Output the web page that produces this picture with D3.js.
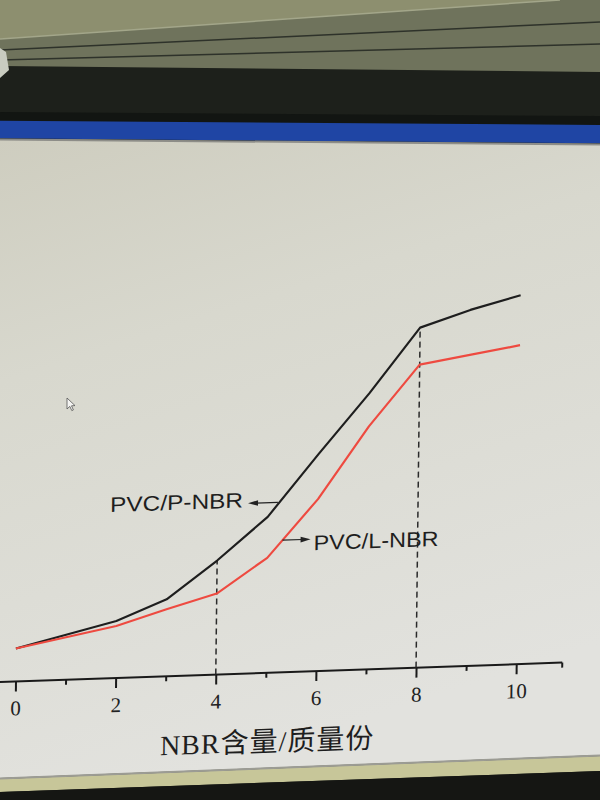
<!DOCTYPE html>
<html>
<head>
<meta charset="utf-8">
<script src="https://cdn.jsdelivr.net/npm/d3@7/dist/d3.min.js"></script>
<style>
  html, body { margin: 0; padding: 0; background: #1c1f1a; }
  svg { display: block; }
</style>
</head>
<body>
<svg id="chart" width="600" height="800"></svg>
<script>
// ---- data ----
const nbrContent = [0, 2, 3, 4, 5, 6, 7, 8, 9, 10];
const pNBR = [3.3, 5.7, 7.7, 11.4, 15.6, 21.7, 27.6, 34.0, 35.6, 36.9];
const lNBR = [3.3, 5.2, 6.7, 8.1, 11.5, 17.2, 24.3, 30.3, 31.1, 31.9];
const majorTicks = [0, 2, 4, 6, 8, 10];
const minorTicks = [1, 3, 5, 7, 9];
const markerX = [4, 8];
const seriesNames = ["PVC/P-NBR", "PVC/L-NBR"];
const xTitle = "NBR含量/质量份";

const svg = d3.select("#chart");

// ---- photo surroundings (monitor frame) ----
const defs = svg.append("defs");
const g1 = defs.append("linearGradient").attr("id", "scr")
  .attr("x1", 0).attr("y1", 0).attr("x2", 0.3).attr("y2", 1);
g1.append("stop").attr("offset", "0").attr("stop-color", "#cecdbf");
g1.append("stop").attr("offset", "0.35").attr("stop-color", "#d8d8ce");
g1.append("stop").attr("offset", "1").attr("stop-color", "#e2e2de");

const bg = svg.append("g");
bg.append("rect").attr("width", 600).attr("height", 800).attr("fill", "#1d201b");
bg.append("polygon").attr("points", "0,0 600,0 600,0 0,39").attr("fill", "#8d8f6f");
bg.append("polygon").attr("points", "0,39 560,0 600,0 600,72 0,66").attr("fill", "#6f735c");
bg.append("line").attr("x1", 0).attr("y1", 39).attr("x2", 560).attr("y2", 0)
  .attr("stroke", "#a3a68a").attr("stroke-width", 1.5);
bg.append("line").attr("x1", 0).attr("y1", 50).attr("x2", 600).attr("y2", 22)
  .attr("stroke", "#2e322a").attr("stroke-width", 1.5);
bg.append("line").attr("x1", 0).attr("y1", 60).attr("x2", 600).attr("y2", 44)
  .attr("stroke", "#2e322a").attr("stroke-width", 1.5);
bg.append("polygon").attr("points", "0,48 6,52 9,70 0,78").attr("fill", "#c9ccc0");
bg.append("polygon").attr("points", "0,112 600,116 600,125 0,121").attr("fill", "#121512");
bg.append("polygon").attr("points", "0,120.7 600,125 600,143.3 0,138.3").attr("fill", "#1f45a4");
bg.append("polygon").attr("points", "0,139 600,144 600,755 0,778").attr("fill", "url(#scr)");
bg.append("line").attr("x1", 0).attr("y1", 139.5).attr("x2", 600).attr("y2", 144.5)
  .attr("stroke", "#8d8d88").attr("stroke-width", 2);
bg.append("polygon").attr("points", "0,779 600,756 600,771 0,792").attr("fill", "#c7c699");
bg.append("line").attr("x1", 0).attr("y1", 778.5).attr("x2", 600).attr("y2", 755.5)
  .attr("stroke", "#9c9c94").attr("stroke-width", 2);
bg.append("polygon").attr("points", "0,792 600,771 600,800 0,800").attr("fill", "#151613");
// mouse cursor on screen
bg.append("path").attr("d", "M67,398 L67,409 L69.8,406.4 L71.8,410.6 L73.4,409.9 L71.5,405.8 L75,405.6 Z")
  .attr("fill", "#f4f4f2").attr("stroke", "#555").attr("stroke-width", 0.8);

// ---- chart (slightly skewed, like the photographed screen) ----
const chart = svg.append("g").attr("transform", "matrix(1,-0.0345,-0.012,1,8.184,0)");

const x = d3.scaleLinear().domain([0, 10]).range([15.5, 516.2]);
const y = d3.scaleLinear().domain([0, 40]).range([682, 282]);
const axisY = y(0);

// axis
const axG = chart.append("g").attr("transform", `translate(0,${axisY})`);
const major = d3.axisBottom(x).tickValues(majorTicks).tickSize(10).tickSizeOuter(0)
  .tickFormat(d3.format("d"));
const minor = d3.axisBottom(x).tickValues(minorTicks).tickSize(5).tickSizeOuter(0).tickFormat("");
axG.append("g").call(minor).call(g => g.select(".domain").remove());
axG.append("g").call(major).call(g => g.select(".domain").remove());
axG.selectAll(".tick line").attr("stroke", "#1a1a1a").attr("stroke-width", 2);
axG.selectAll(".tick text")
  .attr("y", 34).attr("dy", 0)
  .attr("fill", "#222")
  .style("font-family", "'Liberation Serif', 'DejaVu Serif', serif")
  .style("font-size", "21px");
axG.append("line").attr("x1", x(-0.4)).attr("x2", x(10.92)).attr("y1", 0).attr("y2", 0)
  .attr("stroke", "#1a1a1a").attr("stroke-width", 2);
axG.append("line").attr("x1", x(10.92)).attr("x2", x(10.92)).attr("y1", 0).attr("y2", 5)
  .attr("stroke", "#1a1a1a").attr("stroke-width", 2);

// dashed markers up to P-NBR curve
markerX.forEach(v => {
  const i = nbrContent.indexOf(v);
  chart.append("line")
    .attr("x1", x(v)).attr("x2", x(v))
    .attr("y1", axisY).attr("y2", y(pNBR[i]))
    .attr("stroke", "#2a2a2a").attr("stroke-width", 1.5)
    .attr("stroke-dasharray", "6,4");
});

// curves
const line = d3.line().x((d, i) => x(nbrContent[i])).y(d => y(d));
chart.append("path").datum(pNBR).attr("d", line)
  .attr("fill", "none").attr("stroke", "#1e1e1e").attr("stroke-width", 2.2)
  .attr("stroke-linejoin", "round");
chart.append("path").datum(lNBR).attr("d", line)
  .attr("fill", "none").attr("stroke", "#ee4a40").attr("stroke-width", 2.2)
  .attr("stroke-linejoin", "round");

// value on a series at fractional x
function valAt(series, xv) {
  for (let i = 0; i < nbrContent.length - 1; i++) {
    if (xv >= nbrContent[i] && xv <= nbrContent[i + 1]) {
      const t = (xv - nbrContent[i]) / (nbrContent[i + 1] - nbrContent[i]);
      return series[i] + t * (series[i + 1] - series[i]);
    }
  }
  return series[series.length - 1];
}

function arrow(x0, x1, yy) {
  const dir = Math.sign(x1 - x0);
  chart.append("line").attr("x1", x0).attr("x2", x1 - dir * 8).attr("y1", yy).attr("y2", yy)
    .attr("stroke", "#222").attr("stroke-width", 1.2);
  chart.append("path")
    .attr("d", `M${x1},${yy} L${x1 - dir * 10},${yy - 2.8} L${x1 - dir * 10},${yy + 2.8} Z`)
    .attr("fill", "#222");
}

// P-NBR label
const pArrowY = y(valAt(pNBR, 5.2)) - 2;
arrow(x(5.2), 246, pArrowY);
chart.append("text").attr("x", 108).attr("y", pArrowY + 4)
  .attr("textLength", 133).attr("lengthAdjust", "spacingAndGlyphs")
  .style("font-family", "'Liberation Sans', Arial, sans-serif").style("font-size", "21px")
  .attr("fill", "#1e1e1e").text(seriesNames[0]);

// L-NBR label
const lArrowY = y(valAt(lNBR, 5.3));
arrow(x(5.3), 309, lArrowY);
chart.append("text").attr("x", 312).attr("y", lArrowY + 11)
  .attr("textLength", 125).attr("lengthAdjust", "spacingAndGlyphs")
  .style("font-family", "'Liberation Sans', Arial, sans-serif").style("font-size", "21px")
  .attr("fill", "#1e1e1e").text(seriesNames[1]);

// axis title
chart.append("text").attr("x", 268).attr("y", 760.7).attr("text-anchor", "middle")
  .style("font-family", "'Liberation Serif', 'Noto Sans CJK SC', serif")
  .style("font-size", "28px").style("letter-spacing", "1px")
  .attr("fill", "#1e1e1e").text(xTitle);
</script>
</body>
</html>
